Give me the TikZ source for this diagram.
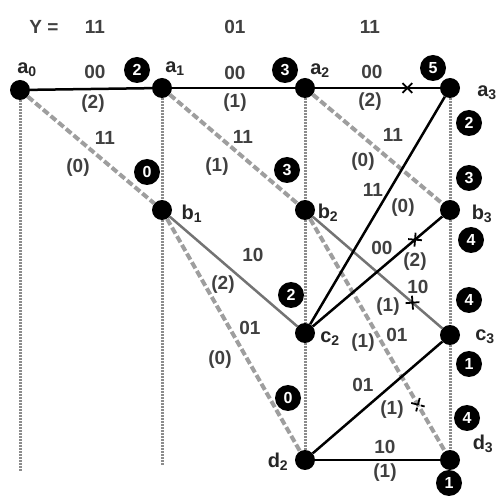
\documentclass[tikz,border=0pt]{standalone}
\usepackage{fontspec}
\setmainfont{Liberation Sans}
\usetikzlibrary{shapes.misc}
\begin{document}
\begin{tikzpicture}[x=1pt,y=-1pt,
  st/.style={circle,fill=black,minimum size=20pt,inner sep=0pt},
  met/.style={circle,fill=black,text=white,minimum size=26pt,inner sep=0pt,font=\fontsize{16}{16}\selectfont\bfseries},
  lab/.style={font=\fontsize{19}{19}\selectfont\bfseries,text=black!75,inner sep=1pt},
  nl/.style={font=\fontsize{20}{20}\selectfont\bfseries,text=black!85,inner sep=0pt},
  vline/.style={draw=black!45,line width=3pt,dash pattern=on 1.5pt off 1.5pt},
  blk/.style={draw=black,line width=2.5pt},
  gsol/.style={draw=black!55,line width=2.5pt},
  gdash/.style={draw=black!38,line width=4pt,dash pattern=on 7pt off 3pt},
  xmark/.style={cross out,draw=black,line width=1.8pt,minimum size=8pt,inner sep=0pt,sloped}
]
\useasboundingbox (0,0) rectangle (499,497);
% states
\node[st] (a0) at (20,90) {};
\node[st] (a1) at (162,88) {};
\node[st] (a2) at (305,88) {};
\node[st] (a3) at (450,88) {};
\node[st] (b1) at (162,210) {};
\node[st] (b2) at (305,210) {};
\node[st] (b3) at (450,210) {};
\node[st] (c2) at (305,333) {};
\node[st] (c3) at (450,335) {};
\node[st] (d2) at (305,460) {};
\node[st] (d3) at (450,460) {};
\coordinate (e0) at (20,472);
\coordinate (e1) at (162,465);
% vertical time lines
\draw[vline] (a0) -- (e0);
\draw[vline] (a1) -- (b1);
\draw[vline] (b1) -- (e1);
\draw[vline] (a2) -- (b2);
\draw[vline] (b2) -- (c2);
\draw[vline] (c2) -- (d2);
\draw[vline] (a3) -- (b3);
\draw[vline] (b3) -- (c3);
\draw[vline] (c3) -- (d3);
% dashed (input 1) branches
\draw[gdash] (a0) -- (b1);
\draw[gdash] (a1) -- (b2);
\draw[gdash] (a2) -- (b3);
\draw[gdash] (b1) -- (d2);
\draw[gdash] (b2) -- (d3) node[xmark,pos=0.8] (x4) {};
% gray solid branches
\draw[gsol] (b1) -- (c2);
\draw[gsol] (b2) -- (c3) node[xmark,pos=0.77] (x3) {};
% black branches
\draw[blk] (a0) -- (a1);
\draw[blk] (a1) -- (a2);
\draw[blk] (a2) -- (a3) node[xmark,pos=0.74] (x1) {};
\draw[blk] (c2) -- (a3);
\draw[blk] (c2) -- (b3) node[xmark,pos=0.79] (x2) {};
\draw[blk] (d2) -- (c3);
\draw[blk] (d2) -- (d3);
% state labels
\node[nl] (la0) at (27,70) {a\textsubscript{0}};
\node[nl] (la1) at (175,69) {a\textsubscript{1}};
\node[nl] (la2) at (320,71) {a\textsubscript{2}};
\node[nl] (la3) at (487,93) {a\textsubscript{3}};
\node[nl] (lb1) at (192,214) {b\textsubscript{1}};
\node[nl] (lb2) at (328,213) {b\textsubscript{2}};
\node[nl] (lb3) at (482,214) {b\textsubscript{3}};
\node[nl] (lc2) at (330,339) {c\textsubscript{2}};
\node[nl] (lc3) at (485,337) {c\textsubscript{3}};
\node[nl] (ld2) at (278,462) {d\textsubscript{2}};
\node[nl] (ld3) at (483,444) {d\textsubscript{3}};
% received sequence
\node[lab] (y) at (44,27) {Y =};
\node[lab] (y1) at (95,27) {11};
\node[lab] (y2) at (235,27) {01};
\node[lab] (y3) at (370,27) {11};
% branch labels
\node[lab] (l1) at (95,72) {00};
\node[lab] (l2) at (93,104) {(2)};
\node[lab] (l3) at (235,73) {00};
\node[lab] (l4) at (235,103) {(1)};
\node[lab] (l5) at (372,72) {00};
\node[lab] (l6) at (370,102) {(2)};
\node[lab] (l7) at (105,138) {11};
\node[lab] (l8) at (78,168) {(0)};
\node[lab] (l9) at (243,137) {11};
\node[lab] (l10) at (217,167) {(1)};
\node[lab] (l11) at (393,135) {11};
\node[lab] (l12) at (363,162) {(0)};
\node[lab] (l13) at (253,255) {10};
\node[lab] (l14) at (223,285) {(2)};
\node[lab] (l15) at (250,328) {01};
\node[lab] (l16) at (220,360) {(0)};
\node[lab] (l17) at (373,190) {11};
\node[lab] (l18) at (403,208) {(0)};
\node[lab] (l19) at (382,248) {00};
\node[lab] (l20) at (415,262) {(2)};
\node[lab] (l21) at (418,287) {10};
\node[lab] (l22) at (388,307) {(1)};
\node[lab] (l23) at (397,335) {01};
\node[lab] (l24) at (363,343) {(1)};
\node[lab] (l25) at (363,385) {01};
\node[lab] (l26) at (392,410) {(1)};
\node[lab] (l27) at (385,447) {10};
\node[lab] (l28) at (385,473) {(1)};
% path metrics
\node[met] (m1) at (137,70) {2};
\node[met] (m2) at (285,70) {3};
\node[met] (m3) at (433,68) {5};
\node[met] (m4) at (147,172) {0};
\node[met] (m5) at (287,170) {3};
\node[met] (m6) at (291,295) {2};
\node[met] (m7) at (288,398) {0};
\node[met] (m8) at (469,123) {2};
\node[met] (m9) at (469,178) {3};
\node[met] (m10) at (471,240) {4};
\node[met] (m11) at (469,300) {4};
\node[met] (m12) at (469,364) {1};
\node[met] (m13) at (467,418) {4};
\node[met] (m14) at (449,483) {1};
\end{tikzpicture}
\end{document}
